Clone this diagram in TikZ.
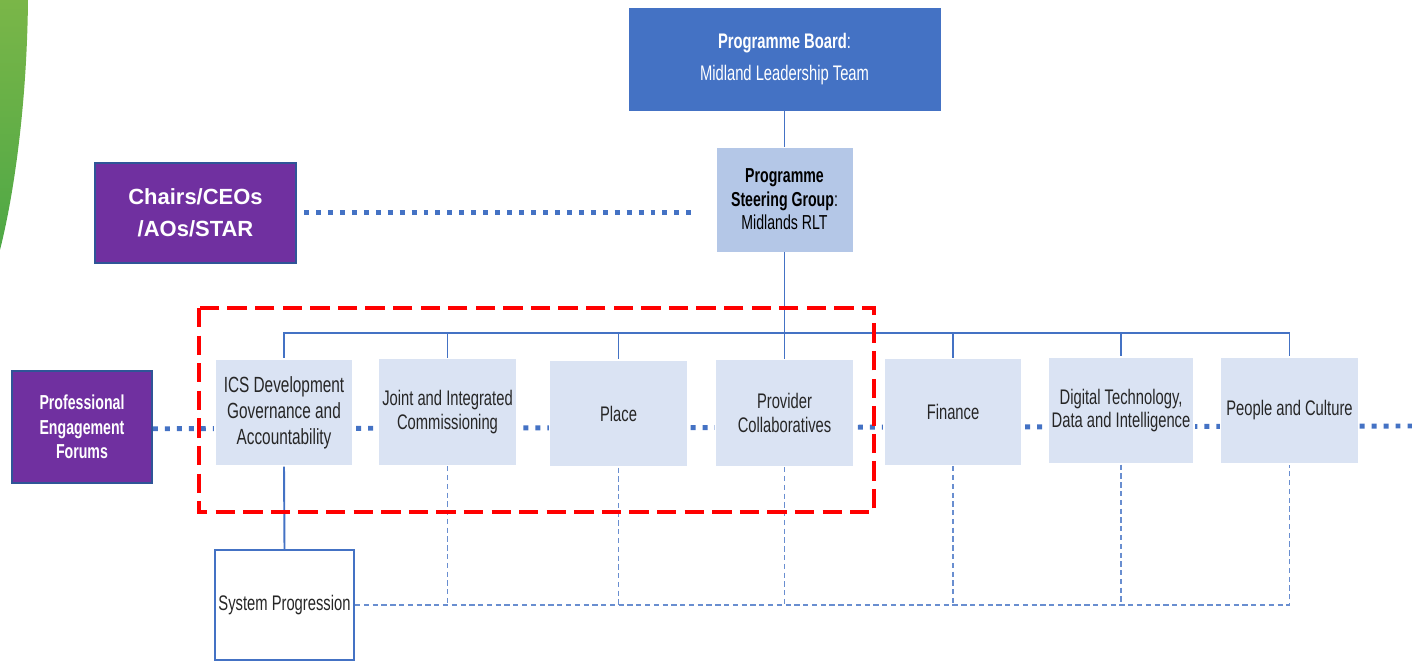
\documentclass[tikz,border=0pt]{standalone}
\usepackage{fontspec}
\setmainfont{Liberation Sans}
\newfontfamily\narrowfont[FakeStretch=0.7]{Liberation Sans}
\usepackage{xcolor}
\usepackage{tikz}
\usetikzlibrary{backgrounds}
\usetikzlibrary{positioning}

\definecolor{boardblue}{HTML}{4472C4}
\definecolor{steerblue}{HTML}{B4C7E7}
\definecolor{paleblue}{HTML}{DAE3F3}
\definecolor{forumpurple}{HTML}{7030A0}
\definecolor{edgeblue}{HTML}{2F5597}
\definecolor{leafgreen}{HTML}{7AB648}
\definecolor{darkgreen}{HTML}{4EA846}
\definecolor{boxtext}{HTML}{262626}

\begin{document}
\begin{tikzpicture}[x=0.02cm,y=-0.02cm]
    \tikzstyle{every node}=[inner sep=2pt,align=center,font=\narrowfont\fontsize{12}{13.5}\selectfont]
    \tikzstyle{rowbox}=[fill=paleblue,draw=white,line width=0.8pt,text=boxtext,minimum width=2.76cm,minimum height=2.14cm]
    \tikzstyle{forum}=[fill=forumpurple,draw=edgeblue,line width=1.2pt,text=white]
    \tikzstyle{solidlink}=[draw=boardblue,line width=1.1pt]
    \tikzstyle{dotlink}=[draw=boardblue,line width=2.8pt,dash pattern=on 2.8pt off 4pt]
    \tikzstyle{thinlink}=[draw=boardblue!80,line width=0.6pt,dash pattern=on 3pt off 2pt]

    \useasboundingbox (0,0) rectangle (1412,661);

    % green band on the left
    \shade[top color=leafgreen,bottom color=darkgreen] (0,0) -- (28,0) .. controls (27,100) and (15,190) .. (0,250) -- cycle;

    \node[fill=boardblue,draw=white,text=white,minimum width=6.26cm,minimum height=2.08cm,
          font=\narrowfont\fontsize{12}{18.7}\selectfont] (board) at (784.5,59) {\textbf{Programme Board}:\\Midland Leadership Team} ;
    \node[fill=steerblue,draw=white,minimum width=2.74cm,minimum height=2.1cm,
          font=\narrowfont\fontsize{11.5}{13.3}\selectfont] (steer) at (784.5,199.5) {\textbf{Programme}\\\textbf{Steering Group}:\\Midlands RLT} ;

    \node[forum,minimum width=4.02cm,minimum height=2cm,font=\bfseries\fontsize{12.5}{18}\selectfont] (chairs) at (195.5,213) {Chairs/CEOs\\/AOs/STAR} ;
    \node[forum,minimum width=2.8cm,minimum height=2.24cm,font=\narrowfont\bfseries\fontsize{11.5}{13.9}\selectfont] (prof) at (82,427) {Professional\\Engagement\\Forums} ;

    \node[rowbox,font=\narrowfont\fontsize{12.5}{14.7}\selectfont] (ics) at (284,412.5) {ICS Development\\Governance and\\Accountability} ;
    \node[rowbox] (joint)  at (447.5,412)   {Joint and Integrated\\Commissioning} ;
    \node[rowbox] (place)  at (618.5,413.5) {Place} ;
    \node[rowbox] (prov)   at (784.5,413)   {Provider\\Collaboratives} ;
    \node[rowbox] (fin)    at (953,412)     {Finance} ;
    \node[rowbox] (dig)    at (1121,410.5)  {Digital Technology,\\Data and Intelligence} ;
    \node[rowbox] (people) at (1289.5,410.5) {People and Culture} ;

    \node[fill=white,draw=boardblue,line width=1.2pt,text=boxtext,minimum width=2.78cm,minimum height=2.2cm] (sys) at (284.5,605) {System Progression} ;

    \coordinate (bus) at (784.5,333) ;
    \coordinate (rightend) at (1412,426) ;

    \begin{scope}[on background layer]
      \draw[dotlink] ([yshift=-1pt]prof.east) -- (rightend) ;
    \end{scope}

    \draw[solidlink] (board.south) -- (steer.north) ;
    \draw[solidlink] (steer.south) -- (bus) ;
    \foreach \n in {ics,joint,place,prov,fin,dig,people}
      \draw[solidlink] (bus) -| (\n.north) ;
    \draw[solidlink] (ics.south) -- (sys.north) ;

    \draw[dotlink,shorten <=4pt,shorten >=12pt] ([yshift=0.5pt]chairs.east) -- ([yshift=0.5pt]chairs.east -| steer.west) ;

    \foreach \n in {joint,place,prov,fin,dig}
      \draw[thinlink] (\n.south) -- (\n.south |- sys.east) ;
    \draw[thinlink] (sys.east) -| (people.south) ;

    % red frame round the first four groups
    \draw[red,line width=2.3pt,dash pattern=on 11pt off 4.7pt] (199,308) rectangle (874,512) ;

  \end{tikzpicture}
\end{document}
